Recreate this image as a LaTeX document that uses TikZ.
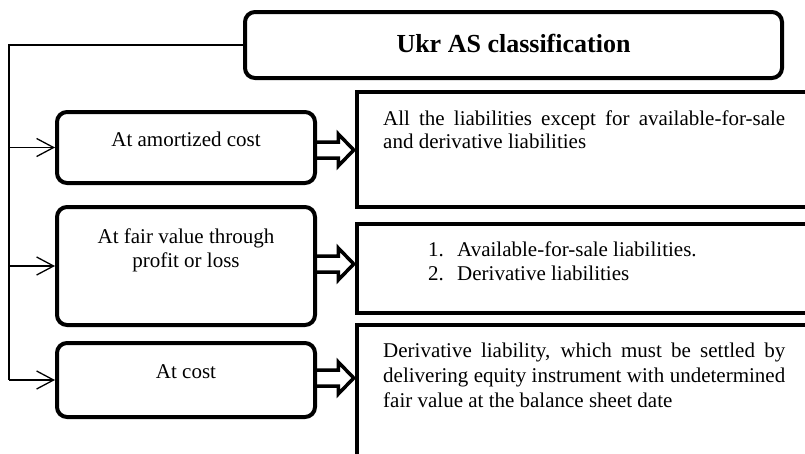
\documentclass[tikz,border=0pt]{standalone}
\usepackage{fontspec}
\setmainfont{Liberation Serif}
\usetikzlibrary{arrows.meta,calc}
\begin{document}
\begin{tikzpicture}[x=1pt,y=-1pt,
  rbox/.style={draw, line width=4pt, rounded corners=10pt, inner sep=0pt},
  sqbox/.style={draw, line width=3.5pt, inner sep=0pt},
  txt/.style={font=\fontsize{21}{24.5}\selectfont, inner sep=0pt, anchor=base},
  ttl/.style={font=\bfseries\fontsize{26}{30}\selectfont, inner sep=0pt, anchor=base},
  thinline/.style={line width=1.3pt},
  thinarrow/.style={thinline, -{Straight Barb[length=17pt,width=18pt,line width=1.3pt]}},
  blk/.style={line width=3.5pt, line join=miter}]
\useasboundingbox (0,0) rectangle (805,453);
% boxes
\node[rbox, minimum width=537, minimum height=66] (title) at (513.5,45) {};
\node[rbox, minimum width=258, minimum height=71] (ba) at (186,147.5) {};
\node[rbox, minimum width=258, minimum height=118] (bb) at (186,266) {};
\node[rbox, minimum width=258, minimum height=74] (bc) at (186,380) {};
\node[sqbox, minimum width=483, minimum height=115] (ra) at (598.5,149.5) {};
\node[sqbox, minimum width=483, minimum height=89] (rb) at (598.5,268.5) {};
\node[sqbox, minimum width=483, minimum height=150] (rc) at (598.5,400) {};
% texts
\node[ttl] (tt) at (513.5,52) {Ukr AS classification};
\node[txt] (ta) at (186,146) {At amortized cost};
\node[txt] (tb1) at (186,243) {At fair value through};
\node[txt] (tb2) at (186,267) {profit or loss};
\node[txt] (tc) at (186,378) {At cost};
\node[txt, anchor=base west] (ra1) at (383,125) {\makebox[402pt][s]{All the liabilities except for available-for-sale}};
\node[txt, anchor=base west] (ra2) at (383,148) {and derivative liabilities};
\node[txt, anchor=base west] (rb1n) at (428,256) {1.};
\node[txt, anchor=base west] (rb1) at (457,256) {Available-for-sale liabilities.};
\node[txt, anchor=base west] (rb2n) at (428,280) {2.};
\node[txt, anchor=base west] (rb2) at (457,280) {Derivative liabilities};
\node[txt, anchor=base west] (rc1) at (383,357) {\makebox[402pt][s]{Derivative liability, which must be settled by}};
\node[txt, anchor=base west] (rc2) at (383,382) {\makebox[402pt][s]{delivering equity instrument with undetermined}};
\node[txt, anchor=base west] (rc3) at (383,407) {fair value at the balance sheet date};
% connectors
\coordinate (top) at (9,45);
\coordinate (bot) at (bc.west -| top);
\draw[thinline] (title.west) -- (top) -- (bot);
\draw[thinarrow] (ba.west -| top) -- (ba.west);
\draw[thinarrow] (bb.west -| top) -- (bb.west);
\draw[thinarrow] (bot) -- (bc.west);
\foreach \s/\t/\dy in {ba/ra/2.5, bb/rb/-2, bc/rc/-2}{
  \draw[blk] ($(\s.east)+(0,\dy-8)$) -- ($(\s.east -| \t.west)+(-17,\dy-8)$) -- ($(\s.east -| \t.west)+(-17,\dy-16)$)
    -- ($(\s.east -| \t.west)+(-1.5,\dy)$) -- ($(\s.east -| \t.west)+(-17,\dy+16)$) -- ($(\s.east -| \t.west)+(-17,\dy+8)$) -- ($(\s.east)+(0,\dy+8)$);
}
\end{tikzpicture}
\end{document}
